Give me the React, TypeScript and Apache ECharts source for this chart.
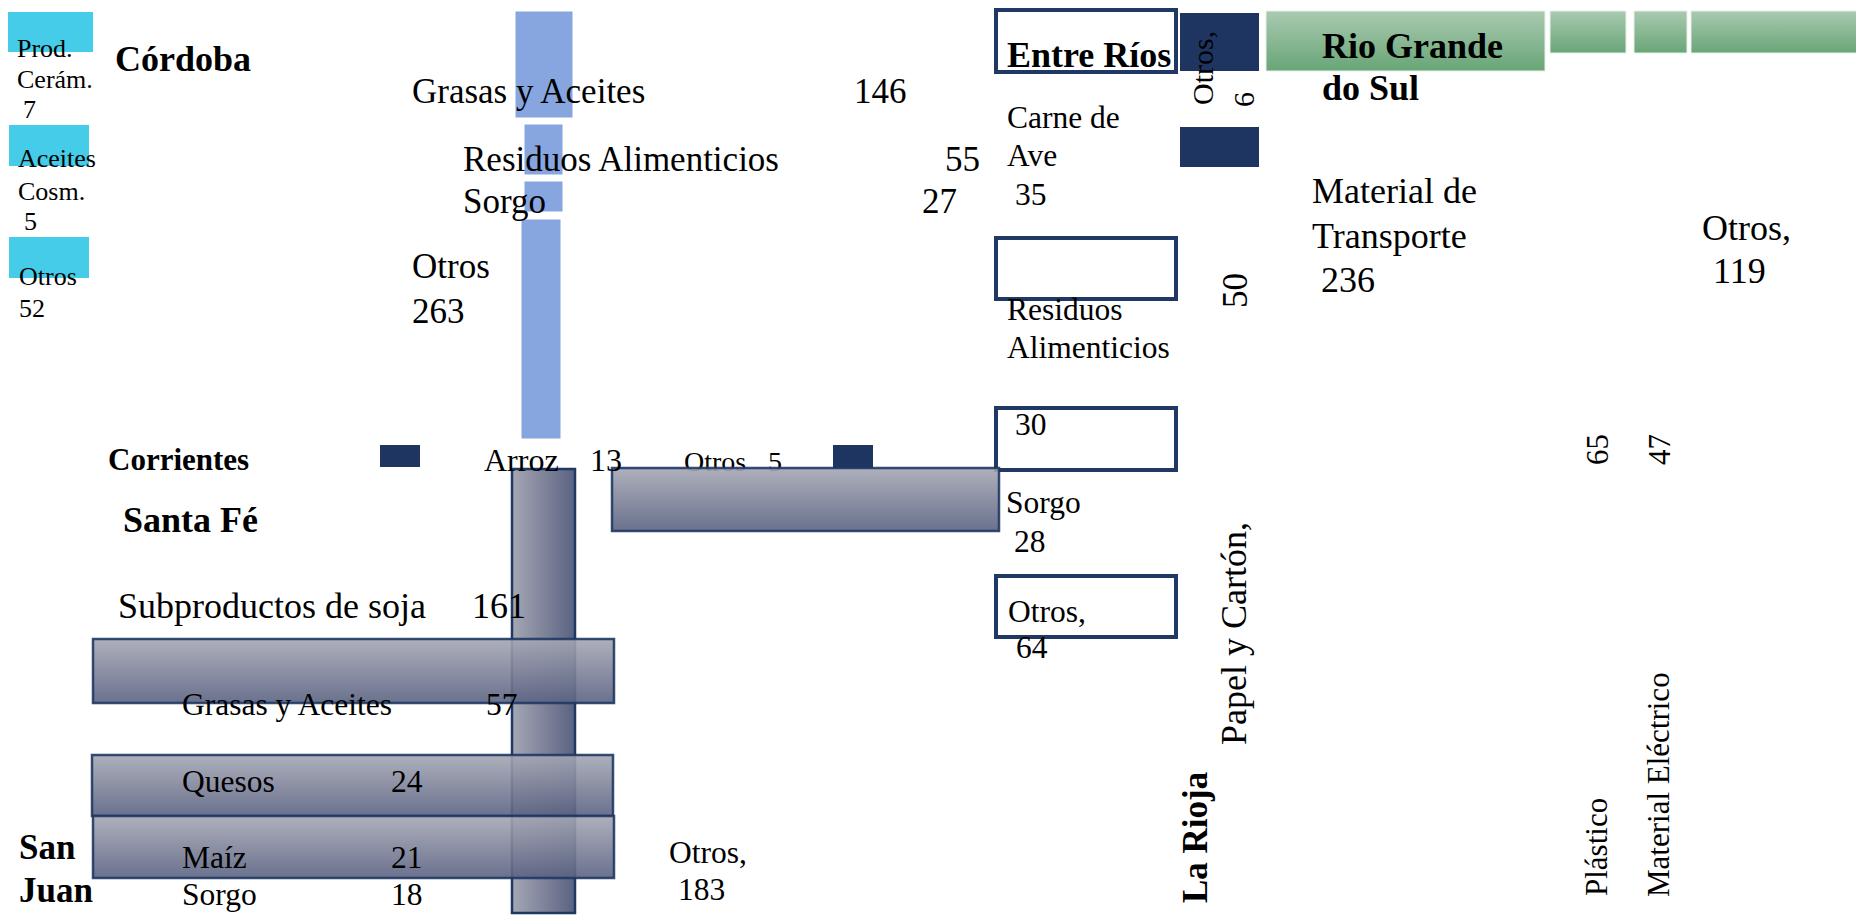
import React, { useEffect, useRef } from 'react';
import * as echarts from 'echarts';

// ---------------- Data ----------------
const provinces = ['Córdoba', 'Corrientes', 'Santa Fé', 'San Juan', 'Entre Ríos', 'La Rioja', 'Rio Grande do Sul'];

const leftProducts = ['Prod. Cerám.', 'Aceites Cosm.', 'Otros'];
const leftValues = [7, 5, 52];

const cordobaProducts = ['Grasas y Aceites', 'Residuos Alimenticios', 'Sorgo', 'Otros'];
const cordobaValues = [146, 55, 27, 263];

const corrientesProducts = ['Arroz', 'Otros'];
const corrientesValues = [13, 5];

const santaFeProducts = ['Subproductos de soja', 'Grasas y Aceites', 'Quesos', 'Maíz', 'Sorgo', 'Otros'];
const santaFeValues = [161, 57, 24, 21, 18, 183];

const entreRiosProducts = ['Carne de Ave', 'Residuos Alimenticios', 'Sorgo', 'Otros'];
const entreRiosValues = [35, 30, 28, 64];

const laRiojaProducts = ['Otros', 'Papel y Cartón'];
const laRiojaValues = [6, 50];

const rgsProducts = ['Material de Transporte', 'Otros', 'Plástico', 'Material Eléctrico'];
const rgsValues = [236, 119, 65, 47];

// ---------------- Layout (slide positions, px) ----------------
const W = 1856;
const H = 915;
const SERIF = '"Liberation Serif", "Times New Roman", Times, serif';

// [x0, y0, x1, y1, styleIndex]
const baseRects: number[][] = [
  [8, 12, 93, 52, 0], [9, 125, 89, 166, 0], [9, 237, 89, 278, 0],
  [515, 11, 573, 118, 1], [524, 124, 563, 175, 1], [524, 181, 563, 212, 1], [521, 219, 561, 439, 1],
  [380, 445, 420, 467, 2], [833, 445, 873, 468, 2], [1180, 13, 1259, 71, 2], [1180, 127, 1259, 167, 2],
  [996, 10, 1176, 72, 3], [996, 238, 1176, 299, 3], [996, 408, 1176, 470, 3], [996, 576, 1176, 637, 3],
  [1266, 11, 1545, 71, 4], [1550, 11, 1626, 53, 4], [1634, 11, 1687, 53, 4], [1691, 11, 1860, 53, 4],
  [512, 469, 575, 913, 5],
];
const overlayRects: number[][] = [
  [612, 468, 999, 531, 6], [93, 639, 614, 703, 6], [92, 755, 613, 816, 6], [93, 816, 614, 878, 6],
];

const grayStops = [
  { offset: 0, color: '#A5A7B4' },
  { offset: 1, color: '#5A6281' },
];

const rectStyles: any[] = [
  { fill: '#45CCE8' },
  { fill: '#87A5DF', stroke: '#FFFFFF', lineWidth: 1 },
  { fill: '#1E3562' },
  { fill: '#FFFFFF', stroke: '#1F3864', lineWidth: 4 },
  { fill: new echarts.graphic.LinearGradient(0, 0, 0, 1, [{ offset: 0, color: '#AACAB1' }, { offset: 1, color: '#68A576' }]), stroke: '#E8F0EA', lineWidth: 1 },
  { fill: new echarts.graphic.LinearGradient(0, 0, 1, 0, grayStops), stroke: '#1F3864', lineWidth: 2.5 },
  { fill: new echarts.graphic.LinearGradient(0, 0, 0, 1, grayStops), stroke: '#1F3864', lineWidth: 2.5, opacity: 0.9 },
];

type Txt = { t: string; x: number; y: number; fs: number; bold?: boolean; rot?: boolean; back?: boolean };

function buildTexts(): Txt[] {
  const out: Txt[] = [];
  const add = (t: string | number, x: number, y: number, fs: number, opt: Partial<Txt> = {}) =>
    out.push({ t: String(t), x, y, fs, ...opt });
  const splitLast = (s: string) => {
    const i = s.lastIndexOf(' ');
    return [s.slice(0, i), s.slice(i + 1)];
  };

  // left column
  const [p1, p2] = leftProducts[0].split(' ');
  add(p1, 17, 57, 26); add(p2, 17, 88, 26); add(leftValues[0], 23, 118, 26);
  const [a1, a2] = leftProducts[1].split(' ');
  add(a1, 18, 167, 26); add(a2, 18, 200, 26); add(leftValues[1], 24, 230, 26);
  add(leftProducts[2], 19, 285, 26); add(leftValues[2], 19, 317, 26);

  // Córdoba
  add(provinces[0], 115, 71, 36, { bold: true });
  add(cordobaProducts[0], 412, 103, 35); add(cordobaValues[0], 854, 103, 35);
  add(cordobaProducts[1], 463, 171, 35); add(cordobaValues[1], 945, 171, 35);
  add(cordobaProducts[2], 463, 213, 35); add(cordobaValues[2], 922, 213, 35);
  add(cordobaProducts[3], 412, 278, 35); add(cordobaValues[3], 412, 323, 35);

  // Corrientes
  add(provinces[1], 108, 470, 31, { bold: true });
  add(corrientesProducts[0], 484, 471, 32); add(corrientesValues[0], 590, 471, 32);
  add(corrientesProducts[1], 684, 471, 28, { back: true }); add(corrientesValues[1], 768, 471, 28, { back: true });

  // Santa Fé
  add(provinces[2], 123, 532, 36, { bold: true });
  add(santaFeProducts[0], 118, 618, 36); add(santaFeValues[0], 472, 618, 36);
  add(santaFeProducts[1], 182, 715, 31.5); add(santaFeValues[1], 486, 715, 31.5);
  add(santaFeProducts[2], 182, 792, 31.5); add(santaFeValues[2], 391, 792, 31.5);
  add(santaFeProducts[3], 182, 868, 31.5); add(santaFeValues[3], 391, 868, 31.5);
  add(santaFeProducts[4], 182, 905, 31.5); add(santaFeValues[4], 391, 905, 31.5);
  add(santaFeProducts[5] + ',', 669, 863, 31.5); add(santaFeValues[5], 678, 900, 31.5);

  // San Juan
  const [s1, s2] = provinces[3].split(' ');
  add(s1, 19, 859, 35, { bold: true }); add(s2, 19, 902, 35, { bold: true });

  // Entre Ríos
  add(provinces[4], 1007, 67, 36, { bold: true });
  const [c1, c2] = splitLast(entreRiosProducts[0]);
  add(c1, 1007, 128, 31.5); add(c2, 1007, 166, 31.5); add(entreRiosValues[0], 1015, 205, 31.5);
  const [r1, r2] = entreRiosProducts[1].split(' ');
  add(r1, 1007, 320, 31.5); add(r2, 1007, 358, 31.5); add(entreRiosValues[1], 1015, 435, 31.5);
  add(entreRiosProducts[2], 1006, 513, 31.5); add(entreRiosValues[2], 1014, 552, 31.5);
  add(entreRiosProducts[3] + ',', 1008, 622, 31.5); add(entreRiosValues[3], 1016, 658, 31.5);

  // La Rioja (rotated; x = baseline x, y = start of text at the bottom)
  add(provinces[5], 1207, 903, 35, { bold: true, rot: true });
  add(laRiojaProducts[0] + ',', 1213, 105, 30, { rot: true });
  add(laRiojaValues[0], 1254, 107, 30, { rot: true });
  add(laRiojaValues[1], 1247, 308, 35, { rot: true });
  add(laRiojaProducts[1] + ',', 1246, 745, 36, { rot: true });

  // Rio Grande do Sul
  const [g1, g2] = ['Rio Grande', 'do Sul'];
  if (provinces[6] === g1 + ' ' + g2) {
    add(g1, 1322, 58, 36, { bold: true }); add(g2, 1322, 100, 36, { bold: true });
  }
  const [m1, m2] = splitLast(rgsProducts[0]);
  add(m1, 1312, 203, 36); add(m2, 1312, 248, 36); add(rgsValues[0], 1321, 292, 36);
  add(rgsProducts[1] + ',', 1702, 240, 36); add(rgsValues[1], 1713, 283, 36);
  add(rgsValues[2], 1608, 465, 31, { rot: true });
  add(rgsValues[3], 1670, 465, 31, { rot: true });
  add(rgsProducts[2], 1607, 896, 31, { rot: true });
  add(rgsProducts[3], 1669, 897, 31, { rot: true });
  return out;
}

const allTexts = buildTexts();

const rectRender = (list: number[][]) => (params: any, api: any) => {
  const i = params.dataIndex;
  const r = list[i];
  const p0 = api.coord([api.value(0), api.value(1)]);
  const p1 = api.coord([api.value(2), api.value(3)]);
  return {
    type: 'rect',
    shape: { x: p0[0], y: p0[1], width: p1[0] - p0[0], height: p1[1] - p0[1] },
    style: rectStyles[r[4]],
  };
};

const textRender = (list: Txt[]) => (params: any, api: any) => {
  const d = list[params.dataIndex];
  const p = api.coord([api.value(0), api.value(1)]);
  const off = 0.34 * d.fs;
  return {
    type: 'text',
    x: d.rot ? p[0] - off : p[0],
    y: d.rot ? p[1] : p[1] - off,
    rotation: d.rot ? Math.PI / 2 : 0,
    style: {
      text: d.t,
      x: 0,
      y: 0,
      fill: '#000000',
      fontSize: d.fs,
      fontFamily: SERIF,
      fontWeight: d.bold ? 'bold' : 'normal',
      align: 'left',
      verticalAlign: 'middle',
    },
  };
};

export default function App() {
  const ref = useRef<HTMLDivElement>(null);
  useEffect(() => {
    document.body.style.margin = '0';
    if (!ref.current) return;
    const chart = echarts.init(ref.current, undefined, { renderer: 'svg' });
    const backTexts = allTexts.filter((t) => t.back);
    const frontTexts = allTexts.filter((t) => !t.back);
    chart.setOption({
      animation: false,
      backgroundColor: '#FFFFFF',
      grid: { left: 0, right: 0, top: 0, bottom: 0 },
      xAxis: { type: 'value', min: 0, max: W, show: false },
      yAxis: { type: 'value', min: 0, max: H, inverse: true, show: false },
      series: [
        {
          type: 'custom', z: 1, clip: false, silent: true,
          renderItem: rectRender(baseRects),
          data: baseRects.map((r) => [r[0], r[1], r[2], r[3]]),
        },
        {
          type: 'custom', z: 2, clip: false, silent: true,
          renderItem: textRender(backTexts),
          data: backTexts.map((t) => [t.x, t.y]),
        },
        {
          type: 'custom', z: 3, clip: false, silent: true,
          renderItem: rectRender(overlayRects),
          data: overlayRects.map((r) => [r[0], r[1], r[2], r[3]]),
        },
        {
          type: 'custom', z: 4, clip: false, silent: true,
          renderItem: textRender(frontTexts),
          data: frontTexts.map((t) => [t.x, t.y]),
        },
      ],
    });
    return () => chart.dispose();
  }, []);
  return <div ref={ref} style={{ position: 'fixed', left: 0, top: 0, width: W, height: H }} />;
}
